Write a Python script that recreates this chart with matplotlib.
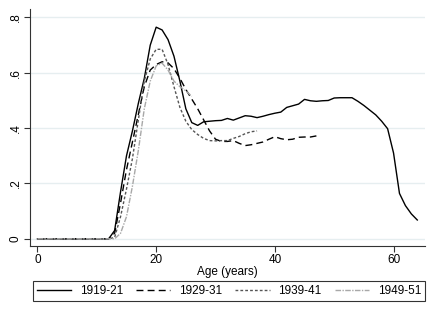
import matplotlib
matplotlib.use("Agg")
import matplotlib.pyplot as plt

plt.rcParams['font.family'] = ['Liberation Sans', 'DejaVu Sans']

labels = ["1919-21", "1929-31", "1939-41", "1949-51"]

ages_1919 = list(range(0, 65))
vals_1919 = [0]*13 + [0.03, 0.17, 0.30, 0.39, 0.49, 0.58, 0.70, 0.765, 0.755,
             0.72, 0.66, 0.57, 0.47, 0.42, 0.41, 0.423, 0.425, 0.427, 0.428,
             0.435, 0.429, 0.437, 0.445, 0.443, 0.438, 0.443, 0.449, 0.454, 0.458,
             0.475, 0.481, 0.487, 0.504, 0.499, 0.497, 0.499, 0.500, 0.509, 0.510,
             0.510, 0.510, 0.497, 0.482, 0.465, 0.448, 0.425, 0.398, 0.31, 0.164,
             0.12, 0.09, 0.068]

ages_1929 = list(range(0, 48))
vals_1929 = [0]*13 + [0.02, 0.13, 0.25, 0.35, 0.45, 0.55, 0.61, 0.63, 0.64,
             0.636, 0.615, 0.58, 0.54, 0.505, 0.47, 0.43, 0.39, 0.36, 0.352,
             0.352, 0.355, 0.345, 0.337, 0.34, 0.345, 0.35, 0.36, 0.369, 0.362,
             0.358, 0.36, 0.367, 0.368, 0.368, 0.372]

ages_1939 = list(range(0, 38))
vals_1939 = [0]*13 + [0.005, 0.08, 0.18, 0.29, 0.43, 0.57, 0.65, 0.685, 0.685,
             0.63, 0.55, 0.475, 0.425, 0.395, 0.377, 0.363, 0.355, 0.354, 0.355,
             0.355, 0.363, 0.37, 0.38, 0.387, 0.39]

ages_1949 = list(range(0, 27))
vals_1949 = [0]*14 + [0.02, 0.08, 0.19, 0.32, 0.47, 0.57, 0.625, 0.635,
             0.61, 0.57, 0.55, 0.535, 0.515]

fig = plt.figure(figsize=(4.36, 3.17), dpi=100)
ax = fig.add_axes([30/436, 1-246/317, 395/436, (246-9.2)/317])

ax.plot(ages_1919, vals_1919, color='black', lw=1.0, ls='-', label=labels[0])
ax.plot(ages_1929, vals_1929, color='black', lw=1.0, ls=(0, (5, 3)), label=labels[1])
ax.plot(ages_1939, vals_1939, color='#555555', lw=1.0, ls=(0, (2, 1.5)), label=labels[2])
ax.plot(ages_1949, vals_1949, color='#a8a8a8', lw=1.0, ls=(0, (4, 1, 1, 1)), label=labels[3])

ax.set_xlim(-1.26, 65.3)
ax.set_ylim(-0.026, 0.83)
ax.set_xticks([0, 20, 40, 60])
ax.set_yticks([0, 0.2, 0.4, 0.6, 0.8])
ax.set_yticklabels(["0", ".2", ".4", ".6", ".8"], rotation=90, va='center')
ax.tick_params(axis='both', labelsize=8.5, length=4, width=0.8, color='#333333', pad=2)
ax.grid(axis='y', color='#e6eef0', lw=1.0)
ax.set_axisbelow(True)
for s in ['top', 'right']:
    ax.spines[s].set_visible(False)
for s in ['left', 'bottom']:
    ax.spines[s].set_color('#333333')
    ax.spines[s].set_linewidth(0.8)
ax.set_xlabel("Age (years)", fontsize=8.5, labelpad=0)

leg = fig.legend(loc='center', bbox_to_anchor=(229/436, 1-291.3/317), ncol=4,
                 fontsize=8.5, frameon=True, fancybox=False, handlelength=2.9,
                 handletextpad=0.75, columnspacing=1.1, borderpad=0.35,
                 borderaxespad=0)
leg.get_frame().set_edgecolor('black')
leg.get_frame().set_linewidth(0.8)

fig.savefig("out.png", dpi=100)
